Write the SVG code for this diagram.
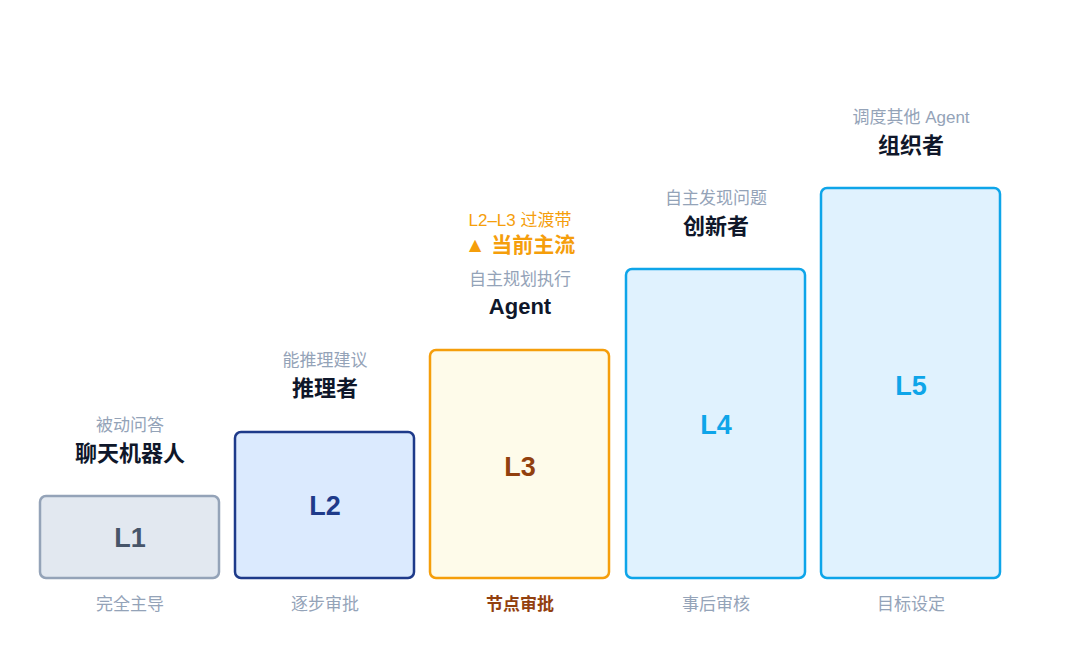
<svg xmlns="http://www.w3.org/2000/svg" width="1080" height="660" viewBox="0 0 1080 660">
<style>
text{font-family:"Liberation Sans","Noto Sans CJK SC",sans-serif;text-anchor:middle}
.sub{font-size:17px;fill:#94a3b8}
.ttl{font-size:22px;font-weight:bold;fill:#0f172a}
.bot{font-size:17px;fill:#94a3b8}
.lv{font-size:27px;font-weight:bold}
rect{stroke-width:2.5}
</style>
<rect width="1080" height="660" fill="#fff"/>
<g id="L1">
<rect x="40" y="496" width="179" height="82" rx="6" fill="#e2e8f0" stroke="#94a3b8"/>
<text class="lv" x="130" y="547" fill="#475569">L1</text>
<text class="sub" x="130" y="431">被动问答</text>
<text class="ttl" x="130" y="461">聊天机器人</text>
<text class="bot" x="130" y="610">完全主导</text>
</g>
<g id="L2">
<rect x="235" y="432" width="179" height="146" rx="6" fill="#dbeafe" stroke="#1e3a8a"/>
<text class="lv" x="325" y="515" fill="#1e3a8a">L2</text>
<text class="sub" x="325" y="366">能推理建议</text>
<text class="ttl" x="325" y="396">推理者</text>
<text class="bot" x="325" y="610">逐步审批</text>
</g>
<g id="L3">
<rect x="430" y="350" width="179" height="228" rx="6" fill="#fefbea" stroke="#f59e0b" stroke-width="3"/>
<text class="lv" x="520" y="476" fill="#92400e">L3</text>
<text x="520" y="226" font-size="17" fill="#f59e0b">L2–L3 过渡带</text>
<text x="520" y="252" font-size="21" font-weight="bold" fill="#f59e0b">▲ 当前主流</text>
<text class="sub" x="520" y="285">自主规划执行</text>
<text class="ttl" x="520" y="314">Agent</text>
<text class="bot" x="520" y="610" font-weight="bold" style="fill:#92400e">节点审批</text>
</g>
<g id="L4">
<rect x="626" y="269" width="179" height="309" rx="6" fill="#e0f2fe" stroke="#0ea5e9"/>
<text class="lv" x="716" y="434" fill="#0ea5e9">L4</text>
<text class="sub" x="716" y="204">自主发现问题</text>
<text class="ttl" x="716" y="234">创新者</text>
<text class="bot" x="716" y="610">事后审核</text>
</g>
<g id="L5">
<rect x="821" y="188" width="179" height="390" rx="6" fill="#e0f2fe" stroke="#0ea5e9"/>
<text class="lv" x="911" y="395" fill="#0ea5e9">L5</text>
<text class="sub" x="911" y="123">调度其他 Agent</text>
<text class="ttl" x="911" y="153">组织者</text>
<text class="bot" x="911" y="610">目标设定</text>
</g>
<g id="connectors"></g>
</svg>
